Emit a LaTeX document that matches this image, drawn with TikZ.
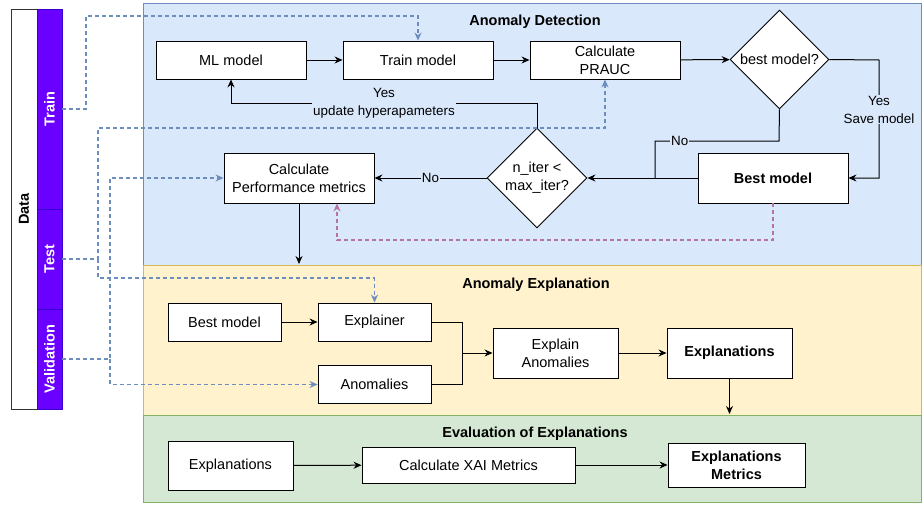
\documentclass[tikz,border=0pt]{standalone}
\usepackage{fontspec}
\setmainfont{Liberation Sans}
\usepackage{graphicx}
\usetikzlibrary{arrows.meta,shapes.geometric}

\definecolor{detfill}{HTML}{DAE8FC}
\definecolor{detline}{HTML}{6C8EBF}
\definecolor{expfill}{HTML}{FFF2CC}
\definecolor{expline}{HTML}{D6B656}
\definecolor{evafill}{HTML}{D5E8D4}
\definecolor{evaline}{HTML}{82B366}
\definecolor{segfill}{HTML}{6A00FF}
\definecolor{segline}{HTML}{3700CC}
\definecolor{pinkline}{HTML}{B5739D}

\begin{document}
\begin{tikzpicture}[x=1pt, y=-1pt, > = {Stealth[length=8pt,width=7pt]},
    box/.style = {draw, fill=white, line width=0.9pt, align=center, inner sep=0pt, font=\fontsize{14.5}{18}\selectfont},
    decision/.style = {diamond, draw, fill=white, line width=0.9pt, align=center, inner sep=0pt, font=\fontsize{14.5}{18}\selectfont},
    seg/.style = {draw=segline, fill=segfill, text=white, minimum width=25, minimum height=100, inner sep=0pt, font=\fontsize{14.5}{18}\selectfont\bfseries},
    title/.style = {font=\fontsize{14.5}{18}\selectfont\bfseries},
    lbl/.style = {align=center, inner sep=1pt, font=\fontsize{13.4}{18}\selectfont},
    flow/.style = {line width=1pt, ->},
    link/.style = {line width=1pt},
    datalink/.style = {draw=detline, line width=1.2pt, dash pattern=on 4pt off 3pt},
    pinklink/.style = {draw=pinkline, line width=1.2pt, dash pattern=on 4pt off 3pt}]

    \useasboundingbox (0,0) rectangle (922,506);

    % stages
    \draw[detline, fill=detfill] (143,3) rectangle (921.5,265);
    \draw[expline, fill=expfill] (143,265) rectangle (921.5,415);
    \draw[evaline, fill=evafill] (143,415) rectangle (921.5,502);
    \node[title] (dettitle) at (535,21.5) {Anomaly Detection};
    \node[title] (exptitle) at (536,284.5) {Anomaly Explanation};
    \node[title] (evatitle) at (535,433.5) {Evaluation of Explanations};
    \coordinate (detbottom) at (0,264);
    \coordinate (expbottom) at (0,414);

    % data
    \node[draw=black!80, fill=white, minimum width=26, minimum height=400, inner sep=0pt, font=\fontsize{14.5}{18}\selectfont\bfseries] (datacol) at (24,209) {\rotatebox{90}{Data}};
    \node[seg, minimum height=200] (trainseg) at (49.5,109) {\rotatebox{90}{Train}};
    \node[seg] (testseg) at (49.5,259) {\rotatebox{90}{Test}};
    \node[seg] (valseg) at (49.5,359) {\rotatebox{90}{Validation}};

    % anomaly detection
    \node[box, minimum width=150, minimum height=38] (mlmodel) at (231,60) {ML model};
    \node[box, minimum width=150, minimum height=38] (trainmodel) at (418,60) {Train model};
    \node[box, minimum width=150, minimum height=38] (prauc) at (605,60) {Calculate\\PRAUC};
    \node[decision, minimum width=99, minimum height=99] (bestq) at (779.5,59.5) {best model?};
    \node[box, minimum width=150, minimum height=50, font=\fontsize{14.5}{18}\selectfont\bfseries] (bestmodel) at (773,178) {Best model};
    \node[decision, minimum width=100, minimum height=100] (iterq) at (537,178) {n\_iter <\\max\_iter?};
    \node[box, minimum width=150, minimum height=50] (perf) at (299,178) {Calculate\\Performance metrics};

    \draw[flow] (mlmodel) -- (trainmodel);
    \draw[flow] (trainmodel) -- (prauc);
    \draw[flow] (prauc) -- (bestq);
    \draw[flow] (bestq.east) -- (879,60) -- node[lbl, fill=detfill, pos=0.42] {Yes\\Save model} (879,178) -- (bestmodel.east);
    \draw[link] (bestq.south) -- (779,141) -- node[lbl, fill=detfill, pos=0.8] {No} (655,141) -- (655,178);
    \draw[flow] (bestmodel) -- (iterq);
    \draw[flow] (iterq) -- node[lbl, fill=detfill] {No} (perf);
    \draw[flow] (iterq.north) -- (537,103) -- node[lbl, fill=detfill] {Yes\\update hyperapameters} (231,103) -- (mlmodel.south);
    \draw[flow] (perf.south) -- (perf.south |- detbottom);
    \coordinate (pinkcorner) at (337,240);
    \draw[pinklink, ->] (bestmodel.south) |- (pinkcorner) -- (pinkcorner |- perf.south);

    % anomaly explanation
    \node[box, minimum width=113, minimum height=38] (bestmodel2) at (224.5,322) {Best model};
    \node[box, minimum width=113, minimum height=38] (explainer) at (374.5,322) {Explainer};
    \node[box, minimum width=113, minimum height=38] (anomalies) at (374.5,384.5) {Anomalies};
    \node[box, minimum width=125, minimum height=50] (explain) at (555.5,353) {Explain\\Anomalies};
    \node[box, minimum width=125, minimum height=50, font=\fontsize{14.5}{18}\selectfont\bfseries] (explanations) at (729.5,353) {Explanations};
    \coordinate (merge) at (462,353);

    \draw[flow] (bestmodel2) -- (explainer);
    \draw[link] (explainer.east) -| (merge);
    \draw[link] (anomalies.east) -| (merge);
    \draw[flow] (merge) -- (explain);
    \draw[flow] (explain) -- (explanations);
    \draw[flow] (explanations.south) -- (explanations.south |- expbottom);

    % evaluation of explanations
    \node[box, minimum width=125, minimum height=49] (explanations2) at (230.5,465.5) {Explanations};
    \node[box, minimum width=213, minimum height=36] (xaimetrics) at (468.5,465) {Calculate XAI Metrics};
    \node[box, minimum width=137, minimum height=44, font=\fontsize{14.5}{18}\selectfont\bfseries] (explmetrics) at (736.5,465) {Explanations\\Metrics};

    \draw[flow] (explanations2) -- (xaimetrics);
    \draw[flow] (xaimetrics) -- (explmetrics);

    % data splits
    \coordinate (testsplit) at (98,259);
    \coordinate (valsplit) at (110,359);
    \draw[datalink, ->] (trainseg.east) -- (86,109) -- (86,16) -| (trainmodel.north);
    \draw[datalink, ->] (testseg.east) -- (testsplit) -- (98,128) -| (prauc.south);
    \draw[datalink, ->] (testsplit) -- (98,278) -| (explainer.north);
    \draw[datalink, ->] (valseg.east) -- (valsplit) -- (110,178) -- (perf.west);
    \draw[datalink, ->] (valsplit) -- (110,384.5) -- (anomalies.west);

\end{tikzpicture}
\end{document}
